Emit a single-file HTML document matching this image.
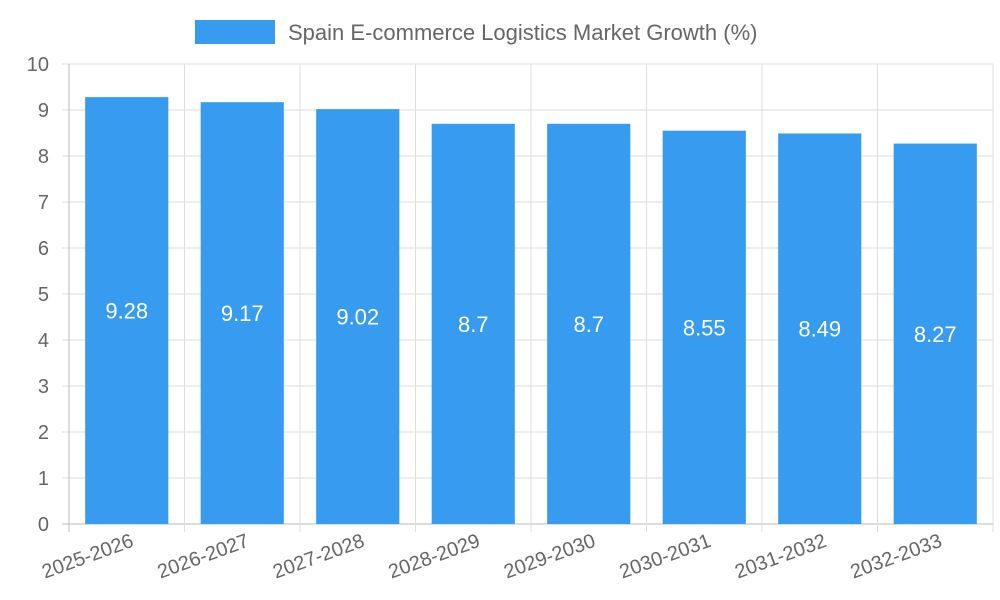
<!DOCTYPE html>
<html><head><meta charset="utf-8"><style>
body{margin:0;background:#fff;}
svg{display:block;font-family:"Liberation Sans",sans-serif;}
</style></head><body>
<svg id="chart" width="1000" height="600">
<g>
<rect x="195" y="20" width="80" height="24" fill="#379cf0"/>
<text x="288" y="40" font-size="22" fill="#666">Spain E-commerce Logistics Market Growth (%)</text>
</g>
<g id="grid"></g><g id="bars"></g><g id="labels"></g>
</svg>
<script>
const categories=["2025-2026","2026-2027","2027-2028","2028-2029","2029-2030","2030-2031","2031-2032","2032-2033"];
const values=[9.28,9.17,9.02,8.7,8.7,8.55,8.49,8.27];
const yTicks=[0,1,2,3,4,5,6,7,8,9,10];
const NS="http://www.w3.org/2000/svg";
const L=69,R=993,T=64,B=524,yMax=10;
const y=v=>B-(v/yMax)*(B-T);
const step=(R-L)/categories.length;
const x=i=>L+i*step;
function mk(tag,attrs,parent,text){const e=document.createElementNS(NS,tag);for(const k in attrs)e.setAttribute(k,attrs[k]);if(text!==undefined)e.textContent=text;parent.appendChild(e);return e;}
const grid=document.getElementById('grid'),bars=document.getElementById('bars'),labels=document.getElementById('labels');
yTicks.forEach(t=>{
const g=mk('line',{x1:L-7,x2:R,y1:y(t),y2:y(t),stroke:t===0?'#bbb':'#ddd','stroke-width':1},grid);


const tx=mk('text',{x:L-20,y:y(t)+7,'text-anchor':'end','font-size':20,fill:'#666'},grid,String(t));


});
for(let i=0;i<=categories.length;i++){
const g=mk('line',{x1:x(i),x2:x(i),y1:T,y2:B+8,stroke:i===0?'#bbb':'#ddd','stroke-width':1},grid);


}
categories.forEach((c,i)=>{
const bw=step*0.72,cx=x(i)+step/2;
const r=mk('rect',{x:cx-bw/2,y:y(values[i]),width:bw,height:B-y(values[i]),fill:'#379cf0'},bars);


const v=mk('text',{x:cx,y:(y(values[i])+B)/2+8,'text-anchor':'middle','font-size':22,fill:'#fff'},labels,String(values[i]));


const lx=cx+8,ly=B+22;
const t=mk('text',{x:lx,y:ly,'text-anchor':'end','font-size':20,fill:'#666',transform:`rotate(-20 ${lx} ${ly})`},labels,c);


});
</script>
</body></html>
